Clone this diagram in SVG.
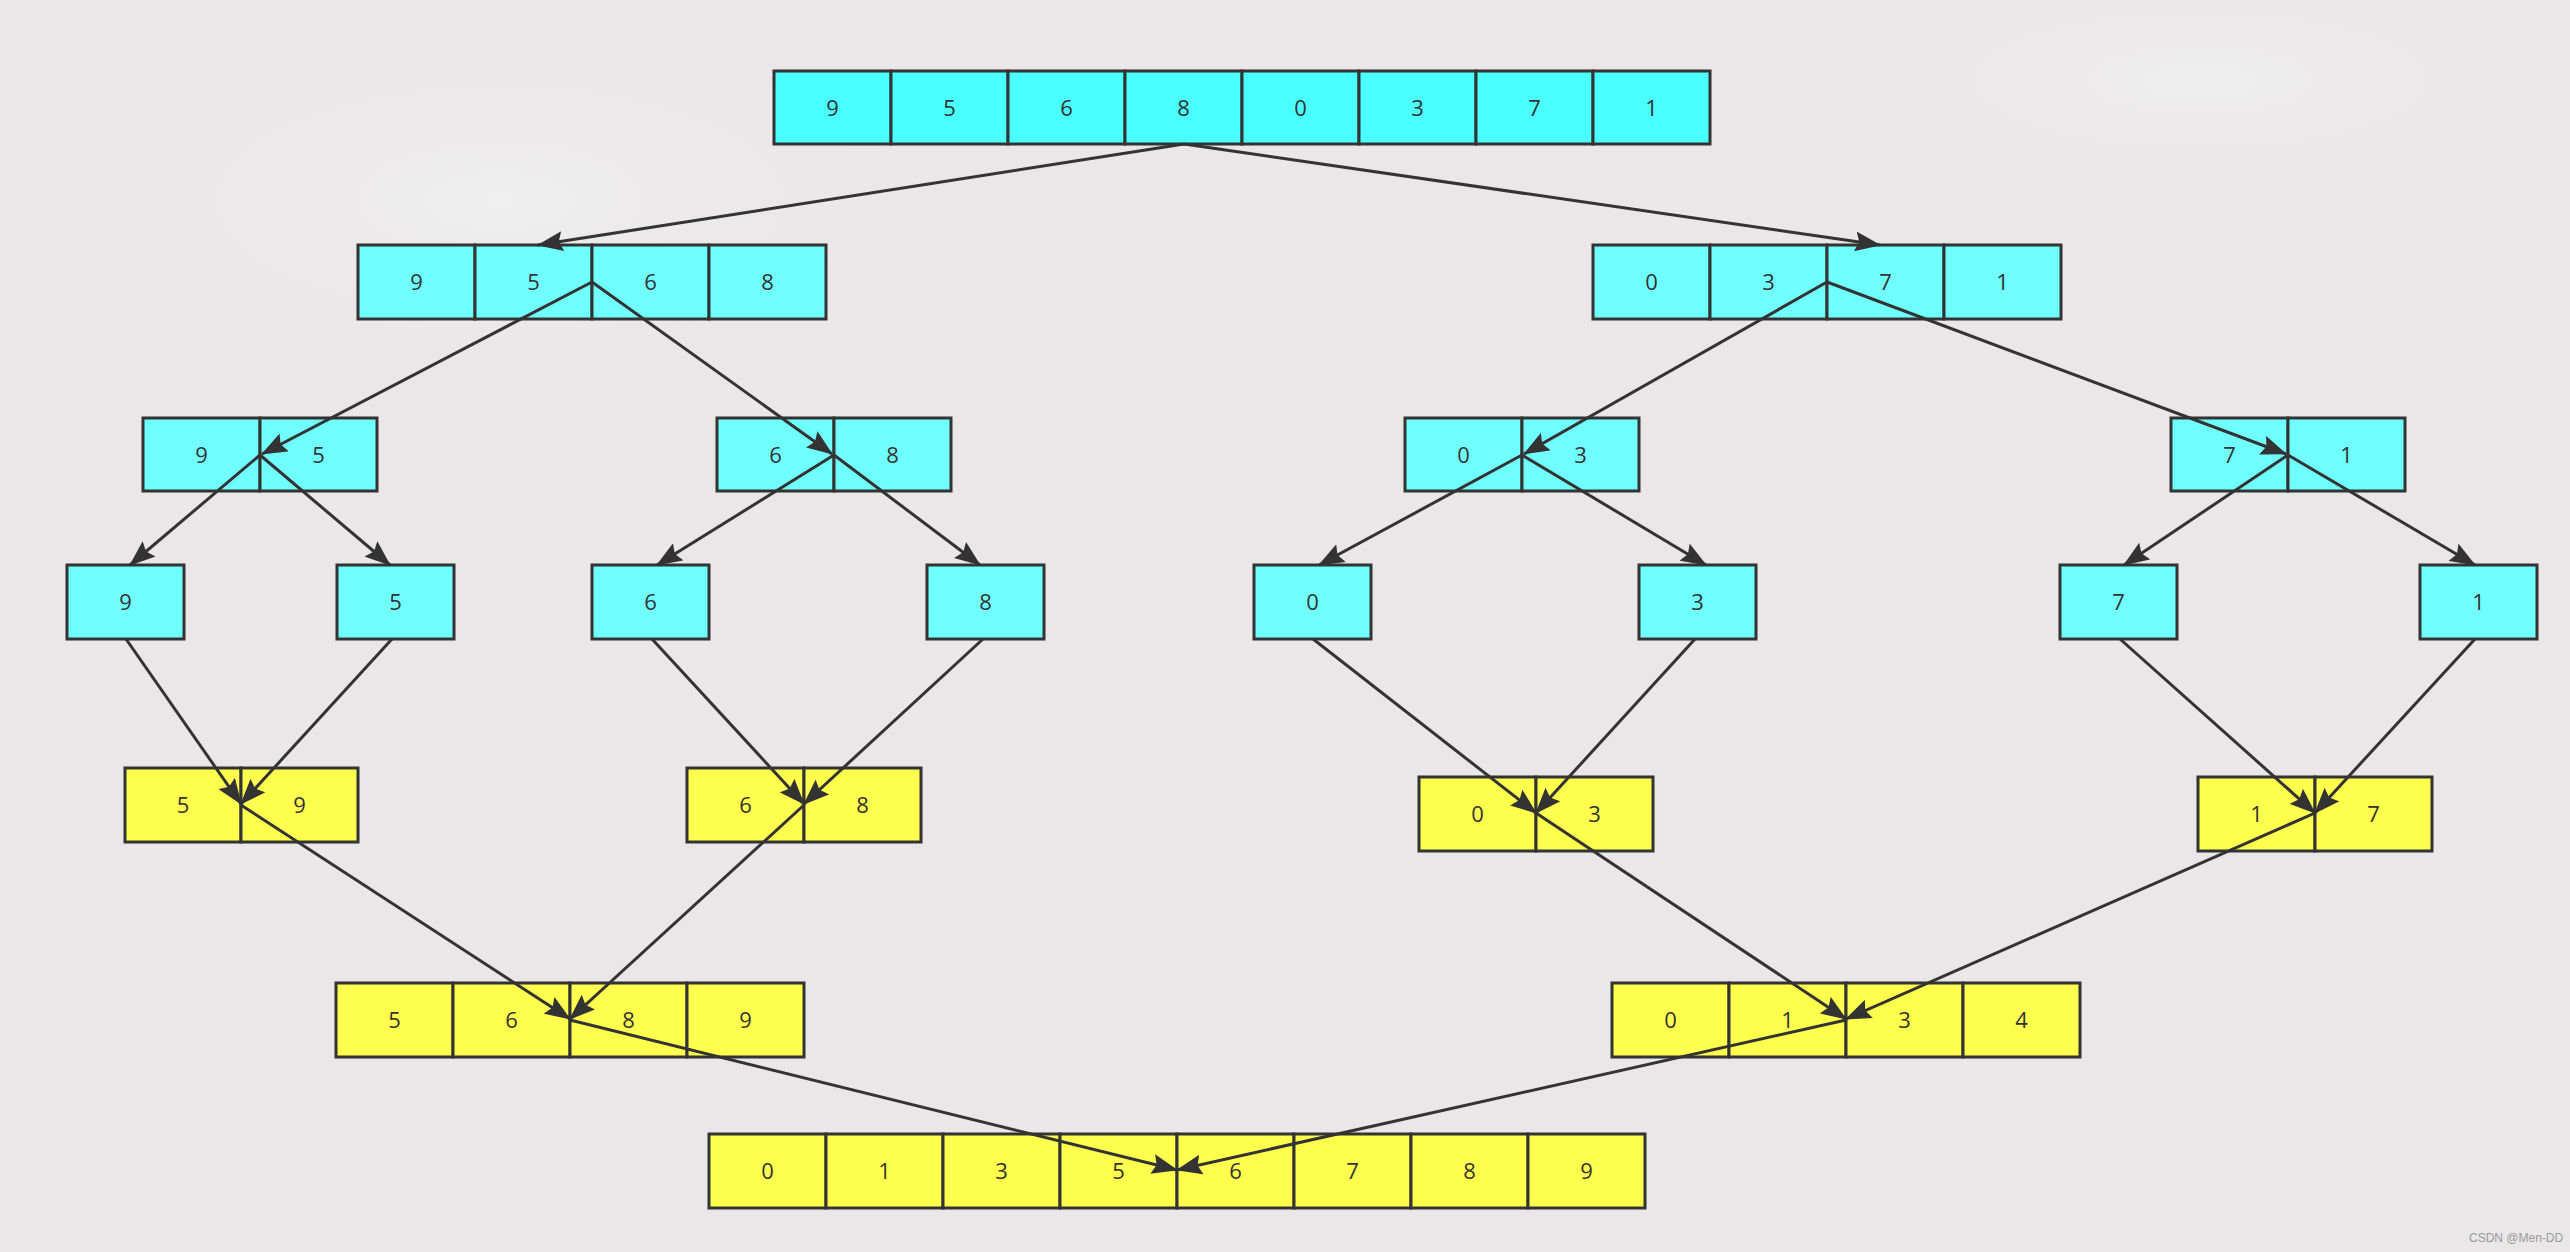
<svg xmlns="http://www.w3.org/2000/svg" width="2570" height="1252" viewBox="0 0 2570 1252">
<defs>
<style>
.c{stroke:#333;stroke-width:3}
.t0{fill:#4affff}
.cy{fill:#70ffff}
.ye{fill:#ffff4d}
text{font-family:"Open Sans","Liberation Sans",sans-serif;font-size:22px;fill:#333;text-anchor:middle}
.e{stroke:#333;stroke-width:3;fill:none;marker-end:url(#ar)}
.wm{font-family:"Liberation Sans",Arial,sans-serif;font-size:12px;fill:#9a9a9a;text-anchor:start}
</style>
<marker id="ar" viewBox="0 0 26 20" refX="25" refY="10" markerWidth="26" markerHeight="20" markerUnits="userSpaceOnUse" orient="auto">
<path d="M0,0 L26,10 L0,20 L4,10 z" fill="#333"/>
</marker>
<radialGradient id="bg1" cx="0.5" cy="0.5" r="0.5"><stop offset="0" stop-color="#f0efef"/><stop offset="1" stop-color="#e9e7e7" stop-opacity="0"/></radialGradient>
</defs>
<rect x="0" y="0" width="2570" height="1252" fill="#e9e7e7"/>
<ellipse cx="500" cy="200" rx="500" ry="200" fill="url(#bg1)"/>
<ellipse cx="2200" cy="80" rx="400" ry="120" fill="url(#bg1)"/>

<g id="n0">
<rect class="c t0" x="774" y="71" width="117" height="73"/><text x="832.5" y="116">9</text>
<rect class="c t0" x="891" y="71" width="117" height="73"/><text x="949.5" y="116">5</text>
<rect class="c t0" x="1008" y="71" width="117" height="73"/><text x="1066.5" y="116">6</text>
<rect class="c t0" x="1125" y="71" width="117" height="73"/><text x="1183.5" y="116">8</text>
<rect class="c t0" x="1242" y="71" width="117" height="73"/><text x="1300.5" y="116">0</text>
<rect class="c t0" x="1359" y="71" width="117" height="73"/><text x="1417.5" y="116">3</text>
<rect class="c t0" x="1476" y="71" width="117" height="73"/><text x="1534.5" y="116">7</text>
<rect class="c t0" x="1593" y="71" width="117" height="73"/><text x="1651.5" y="116">1</text>
</g>

<g id="n1">
<rect class="c cy" x="358" y="245" width="117" height="74"/><text x="416.5" y="290">9</text>
<rect class="c cy" x="475" y="245" width="117" height="74"/><text x="533.5" y="290">5</text>
<rect class="c cy" x="592" y="245" width="117" height="74"/><text x="650.5" y="290">6</text>
<rect class="c cy" x="709" y="245" width="117" height="74"/><text x="767.5" y="290">8</text>
</g>
<g id="n2">
<rect class="c cy" x="1593" y="245" width="117" height="74"/><text x="1651.5" y="290">0</text>
<rect class="c cy" x="1710" y="245" width="117" height="74"/><text x="1768.5" y="290">3</text>
<rect class="c cy" x="1827" y="245" width="117" height="74"/><text x="1885.5" y="290">7</text>
<rect class="c cy" x="1944" y="245" width="117" height="74"/><text x="2002.5" y="290">1</text>
</g>

<g id="n3">
<rect class="c cy" x="143" y="418" width="117" height="73"/><text x="201.5" y="463">9</text>
<rect class="c cy" x="260" y="418" width="117" height="73"/><text x="318.5" y="463">5</text>
</g>
<g id="n4">
<rect class="c cy" x="717" y="418" width="117" height="73"/><text x="775.5" y="463">6</text>
<rect class="c cy" x="834" y="418" width="117" height="73"/><text x="892.5" y="463">8</text>
</g>
<g id="n5">
<rect class="c cy" x="1405" y="418" width="117" height="73"/><text x="1463.5" y="463">0</text>
<rect class="c cy" x="1522" y="418" width="117" height="73"/><text x="1580.5" y="463">3</text>
</g>
<g id="n6">
<rect class="c cy" x="2171" y="418" width="117" height="73"/><text x="2229.5" y="463">7</text>
<rect class="c cy" x="2288" y="418" width="117" height="73"/><text x="2346.5" y="463">1</text>
</g>

<g id="n7"><rect class="c cy" x="67" y="565" width="117" height="74"/><text x="125.5" y="610">9</text></g>
<g id="n8"><rect class="c cy" x="337" y="565" width="117" height="74"/><text x="395.5" y="610">5</text></g>
<g id="n9"><rect class="c cy" x="592" y="565" width="117" height="74"/><text x="650.5" y="610">6</text></g>
<g id="n10"><rect class="c cy" x="927" y="565" width="117" height="74"/><text x="985.5" y="610">8</text></g>
<g id="n11"><rect class="c cy" x="1254" y="565" width="117" height="74"/><text x="1312.5" y="610">0</text></g>
<g id="n12"><rect class="c cy" x="1639" y="565" width="117" height="74"/><text x="1697.5" y="610">3</text></g>
<g id="n13"><rect class="c cy" x="2060" y="565" width="117" height="74"/><text x="2118.5" y="610">7</text></g>
<g id="n14"><rect class="c cy" x="2420" y="565" width="117" height="74"/><text x="2478.5" y="610">1</text></g>

<g id="n15">
<rect class="c ye" x="125" y="768" width="116" height="74"/><text x="183" y="813">5</text>
<rect class="c ye" x="241" y="768" width="117" height="74"/><text x="299.5" y="813">9</text>
</g>
<g id="n16">
<rect class="c ye" x="687" y="768" width="117" height="74"/><text x="745.5" y="813">6</text>
<rect class="c ye" x="804" y="768" width="117" height="74"/><text x="862.5" y="813">8</text>
</g>
<g id="n17">
<rect class="c ye" x="1419" y="777" width="117" height="74"/><text x="1477.5" y="822">0</text>
<rect class="c ye" x="1536" y="777" width="117" height="74"/><text x="1594.5" y="822">3</text>
</g>
<g id="n18">
<rect class="c ye" x="2198" y="777" width="117" height="74"/><text x="2256.5" y="822">1</text>
<rect class="c ye" x="2315" y="777" width="117" height="74"/><text x="2373.5" y="822">7</text>
</g>

<g id="n19">
<rect class="c ye" x="336" y="983" width="117" height="74"/><text x="394.5" y="1028">5</text>
<rect class="c ye" x="453" y="983" width="117" height="74"/><text x="511.5" y="1028">6</text>
<rect class="c ye" x="570" y="983" width="117" height="74"/><text x="628.5" y="1028">8</text>
<rect class="c ye" x="687" y="983" width="117" height="74"/><text x="745.5" y="1028">9</text>
</g>
<g id="n20">
<rect class="c ye" x="1612" y="983" width="117" height="74"/><text x="1670.5" y="1028">0</text>
<rect class="c ye" x="1729" y="983" width="117" height="74"/><text x="1787.5" y="1028">1</text>
<rect class="c ye" x="1846" y="983" width="117" height="74"/><text x="1904.5" y="1028">3</text>
<rect class="c ye" x="1963" y="983" width="117" height="74"/><text x="2021.5" y="1028">4</text>
</g>

<g id="n21">
<rect class="c ye" x="709" y="1134" width="117" height="74"/><text x="767.5" y="1179">0</text>
<rect class="c ye" x="826" y="1134" width="117" height="74"/><text x="884.5" y="1179">1</text>
<rect class="c ye" x="943" y="1134" width="117" height="74"/><text x="1001.5" y="1179">3</text>
<rect class="c ye" x="1060" y="1134" width="117" height="74"/><text x="1118.5" y="1179">5</text>
<rect class="c ye" x="1177" y="1134" width="117" height="74"/><text x="1235.5" y="1179">6</text>
<rect class="c ye" x="1294" y="1134" width="117" height="74"/><text x="1352.5" y="1179">7</text>
<rect class="c ye" x="1411" y="1134" width="117" height="74"/><text x="1469.5" y="1179">8</text>
<rect class="c ye" x="1528" y="1134" width="117" height="74"/><text x="1586.5" y="1179">9</text>
</g>

<g id="connectors">
<line class="e" x1="1184" y1="144" x2="538" y2="245"/>
<line class="e" x1="1184" y1="144" x2="1880" y2="245"/>
<line class="e" x1="592" y1="282" x2="262" y2="454"/>
<line class="e" x1="592" y1="282" x2="832" y2="454"/>
<line class="e" x1="1827" y1="282" x2="1524" y2="454"/>
<line class="e" x1="1827" y1="282" x2="2286" y2="454"/>
<line class="e" x1="260" y1="455" x2="130" y2="565"/>
<line class="e" x1="260" y1="455" x2="390" y2="565"/>
<line class="e" x1="834" y1="455" x2="657" y2="565"/>
<line class="e" x1="834" y1="455" x2="980" y2="565"/>
<line class="e" x1="1522" y1="455" x2="1319" y2="565"/>
<line class="e" x1="1522" y1="455" x2="1706" y2="565"/>
<line class="e" x1="2288" y1="455" x2="2124" y2="565"/>
<line class="e" x1="2288" y1="455" x2="2475" y2="565"/>
<line class="e" x1="126" y1="639" x2="241" y2="804"/>
<line class="e" x1="392" y1="639" x2="241" y2="804"/>
<line class="e" x1="652" y1="639" x2="804" y2="804"/>
<line class="e" x1="983" y1="639" x2="804" y2="804"/>
<line class="e" x1="1313" y1="639" x2="1536" y2="813"/>
<line class="e" x1="1695" y1="639" x2="1536" y2="813"/>
<line class="e" x1="2120" y1="639" x2="2315" y2="813"/>
<line class="e" x1="2475" y1="639" x2="2315" y2="813"/>
<line class="e" x1="241" y1="805" x2="570" y2="1019"/>
<line class="e" x1="804" y1="805" x2="570" y2="1019"/>
<line class="e" x1="1536" y1="813" x2="1846" y2="1019"/>
<line class="e" x1="2315" y1="813" x2="1846" y2="1019"/>
<line class="e" x1="570" y1="1020" x2="1177" y2="1170"/>
<line class="e" x1="1846" y1="1020" x2="1177" y2="1170"/>
</g>

<text class="wm" x="2469" y="1242">CSDN @Men-DD</text>
</svg>
